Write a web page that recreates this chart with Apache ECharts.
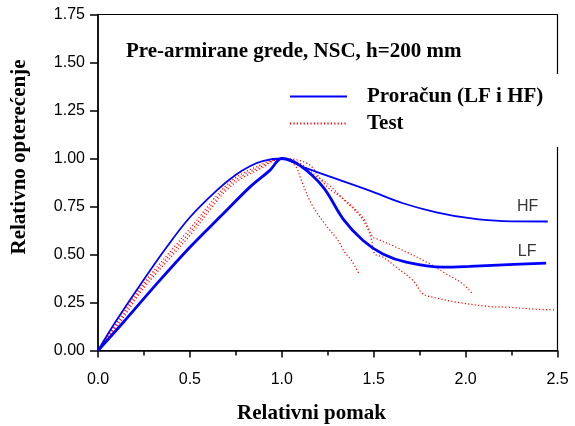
<!DOCTYPE html>
<html>
<head>
<meta charset="utf-8">
<script src="https://cdn.jsdelivr.net/npm/echarts@6/dist/echarts.min.js"></script>
<style>html,body{margin:0;padding:0;background:#fff}#c{width:575px;height:426px}</style>
</head>
<body>
<div id="c"></div>
<script>
// ---- data (relative displacement, relative load) ----
const calcHF = [[0,0],[0.1,0.156],[0.246,0.365],[0.373,0.538],[0.5,0.694],[0.645,0.833],[0.75,0.915],[0.826,0.96],[0.9,0.988],[1.0,1.0],[1.116,0.955],[1.297,0.894],[1.478,0.833],[1.659,0.767],[1.841,0.72],[2.022,0.689],[2.203,0.674],[2.447,0.672]];
const calcLF = [[0,0],[0.138,0.147],[0.319,0.347],[0.5,0.538],[0.681,0.712],[0.826,0.851],[0.935,0.938],[1.0,1.0],[1.098,0.964],[1.225,0.851],[1.333,0.686],[1.442,0.573],[1.55,0.503],[1.677,0.46],[1.877,0.434],[2.022,0.438],[2.203,0.446],[2.438,0.455]];
const test1 = [[0,0],[0.12,0.17],[0.246,0.347],[0.5,0.634],[0.717,0.877],[0.898,0.972],[1.0,1.0],[1.071,0.964],[1.107,0.885],[1.161,0.764],[1.234,0.66],[1.306,0.573],[1.342,0.512],[1.379,0.469],[1.42,0.399]];
const test2 = [[0,0],[0.125,0.165],[0.246,0.334],[0.5,0.616],[0.717,0.864],[0.898,0.963],[1.0,1.0],[1.143,0.972],[1.216,0.885],[1.27,0.833],[1.324,0.798],[1.397,0.738],[1.451,0.677],[1.496,0.59],[1.515,0.582],[1.623,0.538],[1.804,0.452],[1.895,0.399],[1.985,0.347],[2.04,0.292]];
const test3 = [[0,0],[0.13,0.16],[0.246,0.321],[0.5,0.599],[0.717,0.851],[0.898,0.955],[1.0,1.0],[1.098,0.974],[1.185,0.911],[1.261,0.859],[1.342,0.781],[1.424,0.703],[1.467,0.635],[1.489,0.573],[1.505,0.504],[1.551,0.486],[1.623,0.434],[1.714,0.365],[1.768,0.295],[1.841,0.274],[1.949,0.252],[2.13,0.229],[2.221,0.226],[2.402,0.214],[2.493,0.212]];
const xTickLabels = ['0.0','0.5','1.0','1.5','2.0','2.5'];
const yTickLabels = ['0.00','0.25','0.50','0.75','1.00','1.25','1.50','1.75'];
const titleText = 'Pre-armirane grede, NSC, h=200 mm';
const xTitle = 'Relativni pomak';
const yTitle = 'Relativno opterećenje';
const calcName = 'Proračun (LF i HF)';
const testName = 'Test';

const chart = echarts.init(document.getElementById('c'), null, {renderer:'canvas'});
const serif = 'Liberation Serif, Times New Roman, serif';
const sans = 'Liberation Sans, Arial, sans-serif';
const blue = '#0000ff', red = '#ff0000';

function testSeries(d){
  return {name:testName, type:'line', data:d, symbol:'none', smooth:0.35, z:2,
    lineStyle:{color:red, width:1.2, type:[1.2,2.2]}, itemStyle:{color:red}};
}
function tagSeries(txt, pt){
  return {name:txt+'-tag', type:'scatter', data:[pt], symbolSize:1, silent:true,
    itemStyle:{color:'rgba(0,0,0,0)'},
    label:{show:true, position:'inside', formatter:txt, fontFamily:sans, fontSize:16, color:'#000'}};
}

chart.setOption({
  animation:false,
  backgroundColor:'#fff',
  grid:{left:98, top:14.5, width:459.5, height:336, show:true, borderColor:'#000', borderWidth:1.2, backgroundColor:'transparent'},
  legend:{data:[calcName, testName], orient:'vertical', left:284, top:81, itemWidth:57, itemHeight:14, itemGap:6,
    itemStyle:{opacity:0, color:'rgba(0,0,0,0)', borderWidth:0},
    textStyle:{fontFamily:serif, fontWeight:'bold', fontSize:21, color:'#000', padding:[0,0,0,15]}, selectedMode:false, z:5},
  xAxis:{type:'value', min:0, max:2.5, interval:0.5,
    axisLine:{show:true, onZero:false, lineStyle:{color:'#000', width:1.5}},
    axisTick:{show:true, length:7, lineStyle:{color:'#000', width:1.5}},
    minorTick:{show:true, splitNumber:2, length:5, lineStyle:{color:'#000', width:1.5}},
    splitLine:{show:false},
    axisLabel:{margin:21, fontFamily:sans, fontSize:16, color:'#000',
      formatter:v=>xTickLabels[Math.round(v/0.5)]}},
  yAxis:{type:'value', min:0, max:1.75, interval:0.25,
    axisLine:{show:true, onZero:false, lineStyle:{color:'#000', width:1.5}},
    axisTick:{show:true, length:8, lineStyle:{color:'#000', width:1.5}},
    splitLine:{show:false},
    axisLabel:{margin:13, fontFamily:sans, fontSize:16, color:'#000',
      formatter:v=>yTickLabels[Math.round(v/0.25)]}},
  graphic:[
    {type:'rect', shape:{x:290, y:74, width:285, height:73}, style:{fill:'#fff'}, z:1, silent:true},
    {type:'text', x:126, y:52, z:3, style:{text:titleText, font:'bold 21px '+serif, fill:'#000', textVerticalAlign:'middle'}},
    {type:'text', x:311.5, y:414, z:3, style:{text:xTitle, font:'bold 21px '+serif, fill:'#000', textAlign:'center', textVerticalAlign:'middle'}},
    {type:'text', x:20, y:157, rotation:Math.PI/2, z:3, style:{text:yTitle, font:'bold 21px '+serif, fill:'#000', textAlign:'center', textVerticalAlign:'middle'}}
  ],
  series:[
    testSeries(test1), testSeries(test2), testSeries(test3),
    {name:calcName, type:'line', data:calcHF, symbol:'none', smooth:0.35, z:3, lineStyle:{color:blue, width:1.8}, itemStyle:{color:blue}},
    {name:calcName, type:'line', data:calcLF, symbol:'none', smooth:0.35, z:3, lineStyle:{color:blue, width:2.8}, itemStyle:{color:blue}},
    tagSeries('HF', [2.337, 0.749]),
    tagSeries('LF', [2.335, 0.515])
  ]
});
</script>
</body>
</html>
